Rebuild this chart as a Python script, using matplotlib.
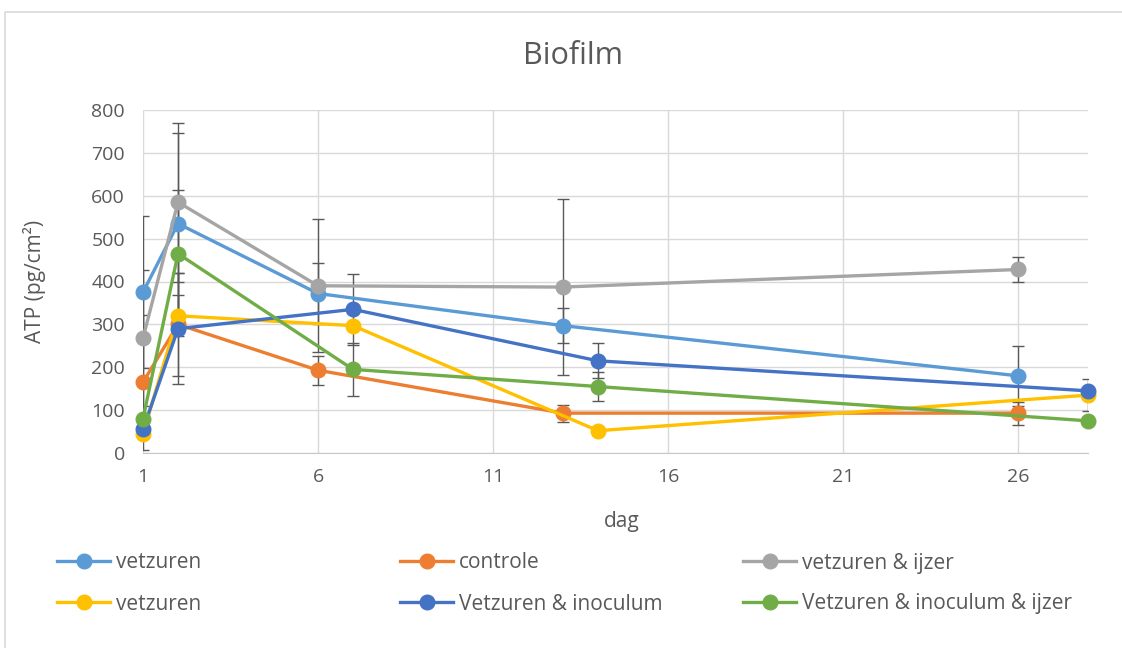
import numpy as np
import matplotlib
matplotlib.use('Agg')
import matplotlib.pyplot as plt
from matplotlib.lines import Line2D

plt.rcParams['font.family'] = ['Open Sans', 'DejaVu Sans']

# measurement days (two sampling schedules)
days_a = [1, 2, 6, 13, 26]
days_b = [1, 2, 7, 14, 28]

labels = ['vetzuren', 'controle', 'vetzuren & ijzer',
          'vetzuren', 'Vetzuren & inoculum', 'Vetzuren & inoculum & ijzer']
colors = ['#5B9BD5', '#ED7D31', '#A5A5A5', '#FFC000', '#4472C4', '#70AD47']

vetzuren = [375, 535, 372, 297, 180]
vetzuren_err = [177, 211, 71, 41, 70]
controle = [165, 300, 193, 93, 93]
controle_err = [157, 120, 34, 20, 27]
vetzuren_ijzer = [268, 585, 390, 387, 428]
vetzuren_ijzer_err = [159, 185, 155, 205, 28]
vetzuren2 = [45, 320, 297, 52, 135]
vetzuren2_err = [0, 48, 0, 0, 37]
inoculum = [55, 290, 335, 215, 145]
inoculum_err = [0, 130, 82, 41, 0]
inoculum_ijzer = [80, 465, 195, 155, 75]
inoculum_ijzer_err = [0, 148, 62, 33, 0]

series = [
    (days_a, vetzuren, vetzuren_err),
    (days_a, controle, controle_err),
    (days_a, vetzuren_ijzer, vetzuren_ijzer_err),
    (days_b, vetzuren2, vetzuren2_err),
    (days_b, inoculum, inoculum_err),
    (days_b, inoculum_ijzer, inoculum_ijzer_err),
]

txt = '#595959'
W, H = 1122, 648
fig = plt.figure(figsize=(W / 100, H / 100), dpi=100)
ax = fig.add_axes([143 / W, 1 - 453 / H, (1088 - 143) / W, (453 - 110) / H])

handles = []
for i, ((x, y, e), c, lab) in enumerate(zip(series, colors, labels)):
    x = np.array(x); y = np.array(y); e = np.array(e)
    m = e > 0
    ax.errorbar(x[m], y[m], yerr=e[m], fmt='none', ecolor='#595959',
                elinewidth=1, capsize=4.5, capthick=1, zorder=2)
    h, = ax.plot(x, y, color=c, lw=2.4, marker='o', ms=10.5, label=lab,
                 zorder=3 + i, clip_on=False)
    handles.append(h)

ax.set_xlim(1, 28)
ax.set_ylim(0, 800)
ax.set_xticks([1, 6, 11, 16, 21, 26])
ax.set_yticks(range(0, 801, 100))
ax.grid(True, color='#D9D9D9', lw=1)
ax.set_axisbelow(True)
for s in ['top', 'right', 'left']:
    ax.spines[s].set_visible(False)
ax.spines['bottom'].set_color('#C8C8C8')
ax.tick_params(length=0, labelsize=14, colors=txt)
ax.tick_params(axis='y', pad=13)
ax.tick_params(axis='x', pad=11)

fig.text(622 / W, 1 - 522 / H, 'dag', fontsize=15, color=txt,
         ha='center', va='center')
fig.text(35 / W, 1 - 281 / H, 'ATP (pg/cm²)', rotation=90, fontsize=15,
         color=txt, ha='center', va='center')
fig.text(573 / W, 1 - 56 / H, 'Biofilm', fontsize=22, color=txt,
         ha='center', va='center')

# legend: three columns of two rows, one entry per box
col_x = [57, 400, 743]
row_y = [563, 604]
for k, h in enumerate(handles):
    leg = fig.legend([h], [h.get_label()], loc='center left',
                     bbox_to_anchor=(col_x[k % 3] / W, 1 - row_y[k // 3] / H),
                     frameon=False, fontsize=15, handlelength=2.55,
                     handletextpad=0.3, borderpad=0, borderaxespad=0)
    for t in leg.get_texts():
        t.set_color(txt)

# chart frame (left and top edges)
fig.add_artist(Line2D([5 / W, 5 / W, 1], [0, 1 - 12 / H, 1 - 12 / H],
                      color='#D9D9D9', lw=1.2))

fig.savefig('out.png', dpi=100)
